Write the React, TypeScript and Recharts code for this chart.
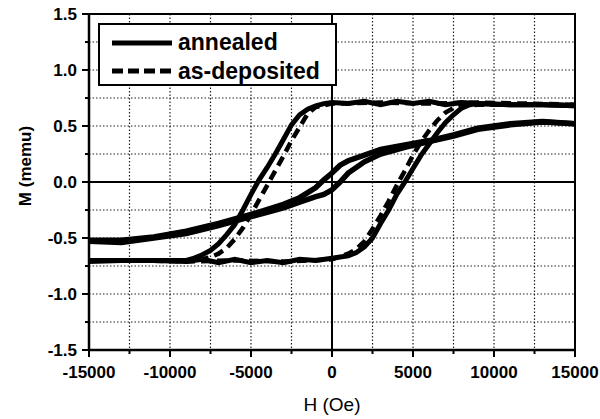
import React from 'react';
import { LineChart, Line, XAxis, YAxis, CartesianGrid, ReferenceLine, ReferenceArea, Label } from 'recharts';

// square loop, annealed (solid)
const annealedDownH = [15000, 13000, 11000, 9000, 8000, 7000, 6000, 5000, 4000, 3000, 2000, 1000, 0, -500, -1000, -1500, -2000, -2500, -3000, -3500, -4000, -4500, -5000, -5500, -6000, -6500, -7000, -7500, -8000, -8500, -9000, -11000, -13000, -15000];
const annealedDownM = [0.68, 0.69, 0.69, 0.70, 0.71, 0.69, 0.72, 0.70, 0.72, 0.69, 0.72, 0.70, 0.71, 0.70, 0.68, 0.65, 0.60, 0.51, 0.38, 0.25, 0.13, 0.02, -0.11, -0.25, -0.38, -0.47, -0.55, -0.61, -0.65, -0.68, -0.70, -0.70, -0.70, -0.71];
const annealedUpH = [-15000, -13000, -11000, -9000, -8000, -7000, -6000, -5000, -4000, -3000, -2000, -1000, 0, 500, 1000, 1500, 2000, 2500, 3000, 3500, 4000, 4500, 5000, 5500, 6000, 6500, 7000, 7500, 8000, 8500, 9000, 11000, 13000, 15000];
const annealedUpM = [-0.70, -0.70, -0.70, -0.71, -0.69, -0.72, -0.69, -0.72, -0.70, -0.72, -0.69, -0.70, -0.68, -0.67, -0.66, -0.63, -0.58, -0.50, -0.37, -0.25, -0.11, 0.00, 0.12, 0.24, 0.34, 0.44, 0.53, 0.60, 0.66, 0.69, 0.70, 0.69, 0.69, 0.68];

// slanted loop (solid)
const slantDownH = [15000, 13000, 11000, 9000, 7500, 6000, 4500, 3000, 2000, 1000, 500, 0, -500, -1000, -2000, -3000, -5000, -7000, -9000, -11000, -13000, -15000];
const slantDownM = [0.52, 0.54, 0.52, 0.48, 0.42, 0.37, 0.33, 0.29, 0.24, 0.19, 0.15, 0.08, 0.02, -0.05, -0.14, -0.20, -0.29, -0.37, -0.44, -0.49, -0.52, -0.52];
const slantUpH = [-15000, -13000, -11000, -9000, -7000, -5000, -3000, -2000, -1000, -500, 0, 500, 1000, 2000, 3000, 4500, 6000, 7500, 9000, 11000, 13000, 15000];
const slantUpM = [-0.53, -0.54, -0.50, -0.46, -0.39, -0.31, -0.23, -0.18, -0.13, -0.11, -0.07, 0.0, 0.08, 0.18, 0.25, 0.31, 0.36, 0.41, 0.47, 0.51, 0.535, 0.52];

// as-deposited (dashed)
const depDownH = [15000, 12000, 9000, 6000, 3000, 0, -1000, -1500, -2000, -2500, -3000, -3500, -4000, -4500, -5000, -5500, -6000, -6500, -7000, -7500, -8000, -9000, -12000, -15000];
const depDownM = [0.69, 0.70, 0.71, 0.70, 0.71, 0.70, 0.67, 0.61, 0.49, 0.37, 0.23, 0.10, -0.03, -0.16, -0.29, -0.41, -0.51, -0.59, -0.64, -0.67, -0.69, -0.70, -0.70, -0.70];
const depUpH = [-15000, -12000, -9000, -6000, -3000, 0, 1000, 1500, 2000, 2500, 3000, 3500, 4000, 4500, 5000, 5500, 6000, 6500, 7000, 7500, 8000, 9000, 12000, 15000];
const depUpM = [-0.70, -0.70, -0.71, -0.70, -0.71, -0.69, -0.64, -0.60, -0.53, -0.42, -0.30, -0.17, -0.03, 0.10, 0.24, 0.36, 0.46, 0.55, 0.62, 0.66, 0.68, 0.69, 0.69, 0.69];

const xTicks = [-15000, -12500, -10000, -7500, -5000, -2500, 0, 2500, 5000, 7500, 10000, 12500, 15000];
const yTicks = [-1.5, -1.25, -1.0, -0.75, -0.5, -0.25, 0, 0.25, 0.5, 0.75, 1.0, 1.25, 1.5];

const zip = (h: number[], m: number[]) => h.map((v, i) => ({ h: v, m: m[i] }));

const FONT = '"Liberation Sans", Arial, sans-serif';

const XTick = ({ x, y, payload }: any) => {
  const v = payload.value;
  const major = v % 5000 === 0;
  return (
    <g>
      <line x1={x} y1={y} x2={x} y2={y + (major ? 7 : 4)} stroke="#000" strokeWidth={2} />
      {major && (
        <text x={x} y={y + 28} textAnchor="middle" fontSize={17} fontWeight="bold" fill="#000" fontFamily={FONT}>
          {v}
        </text>
      )}
    </g>
  );
};

const YTick = ({ x, y, payload }: any) => {
  const v = payload.value;
  const major = Math.abs(v * 2 - Math.round(v * 2)) < 1e-9;
  return (
    <g>
      <line x1={x} y1={y} x2={x - (major ? 7 : 4)} y2={y} stroke="#000" strokeWidth={2} />
      {major && (
        <text x={x - 12} y={y + 6} textAnchor="end" fontSize={17} fontWeight="bold" fill="#000" fontFamily={FONT}>
          {v.toFixed(1)}
        </text>
      )}
    </g>
  );
};

const App = () => {
  return (
    <div style={{ position: 'absolute', left: 0, top: 0, width: 600, height: 419, background: '#fff', fontFamily: FONT }}>
      <LineChart width={600} height={419} margin={{ top: 14, right: 25, bottom: 0, left: 0 }}>
        <CartesianGrid stroke="#222" strokeWidth={1.2} strokeDasharray="1.5 2" />
        <XAxis
          type="number"
          dataKey="h"
          domain={[-15000, 15000]}
          ticks={xTicks}
          interval={0}
          tick={<XTick />}
          tickLine={false}
          tickSize={0}
          tickMargin={0}
          height={69}
          axisLine={{ stroke: '#000', strokeWidth: 2.5 }}
          allowDataOverflow
        >
          <Label
            content={({ viewBox }: any) => (
              <text x={viewBox.x + viewBox.width / 2} y={viewBox.y + 61} textAnchor="middle" fontSize={19} fill="#000" fontFamily={FONT}>
                H (Oe)
              </text>
            )}
          />
        </XAxis>
        <YAxis
          type="number"
          dataKey="m"
          domain={[-1.5, 1.5]}
          ticks={yTicks}
          interval={0}
          tick={<YTick />}
          tickLine={false}
          tickSize={0}
          tickMargin={0}
          width={89}
          axisLine={{ stroke: '#000', strokeWidth: 2.5 }}
          allowDataOverflow
        >
          <Label
            content={({ viewBox }: any) => {
              const cx = 25;
              const cy = viewBox.y + viewBox.height / 2 - 16;
              return (
                <text x={cx} y={cy} transform={`rotate(-90, ${cx}, ${cy})`} textAnchor="middle" dominantBaseline="central" fontSize={17} fontWeight="bold" fill="#000" fontFamily={FONT}>
                  M (memu)
                </text>
              );
            }}
          />
        </YAxis>

        <ReferenceLine x={0} stroke="#000" strokeWidth={2} />
        <ReferenceLine y={0} stroke="#000" strokeWidth={2} />
        <ReferenceArea x1={-15000} x2={15000} y1={-1.5} y2={1.5} fill="none" stroke="#000" strokeWidth={2} />

        <Line data={zip(slantUpH, slantUpM)} dataKey="m" type="linear" stroke="#000" strokeWidth={5.5} dot={false} isAnimationActive={false} />
        <Line data={zip(slantDownH, slantDownM)} dataKey="m" type="linear" stroke="#000" strokeWidth={5.5} dot={false} isAnimationActive={false} />
        <Line data={zip(annealedDownH, annealedDownM)} dataKey="m" type="linear" stroke="#000" strokeWidth={5} dot={false} isAnimationActive={false} />
        <Line data={zip(annealedUpH, annealedUpM)} dataKey="m" type="linear" stroke="#000" strokeWidth={5} dot={false} isAnimationActive={false} />
        <Line data={zip(depDownH, depDownM)} dataKey="m" type="linear" stroke="#000" strokeWidth={4.5} strokeDasharray="10 6" dot={false} isAnimationActive={false} />
        <Line data={zip(depUpH, depUpM)} dataKey="m" type="linear" stroke="#000" strokeWidth={4.5} strokeDasharray="10 6" dot={false} isAnimationActive={false} />
      </LineChart>

      <svg width={600} height={419} style={{ position: 'absolute', left: 0, top: 0, pointerEvents: 'none' }}>
        <rect x={99} y={24} width={237} height={61} fill="#fff" stroke="#000" strokeWidth={2} />
        <line x1={112} y1={43} x2={172} y2={43} stroke="#000" strokeWidth={5} />
        <text x={178} y={50} fontSize={23} fontWeight="bold" fill="#000" fontFamily={FONT}>annealed</text>
        <line x1={112} y1={71} x2={172} y2={71} stroke="#000" strokeWidth={5} strokeDasharray="11 5" />
        <text x={178} y={79} fontSize={23} fontWeight="bold" fill="#000" fontFamily={FONT}>as-deposited</text>
      </svg>
    </div>
  );
};

export default App;
